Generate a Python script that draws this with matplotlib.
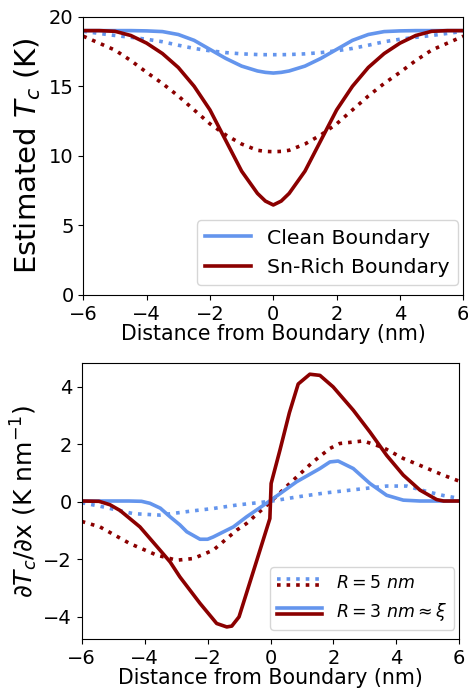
import matplotlib
matplotlib.use("Agg")
import matplotlib.pyplot as plt
from matplotlib.lines import Line2D
from matplotlib.legend_handler import HandlerBase

# ---------------- data: top panel (Estimated Tc) ----------------
x_top = [-6, -5.5, -5, -4.5, -4, -3.5, -3, -2.5, -2, -1.5, -1, -0.5, -0.25, 0,
         0.25, 0.5, 1, 1.5, 2, 2.5, 3, 3.5, 4, 4.5, 5, 5.5, 6]
tc_clean_r3 = [19.0, 19.0, 19.0, 19.0, 18.98, 18.93, 18.72, 18.3, 17.65, 17.0, 16.45, 16.1, 16.0, 15.95,
               16.0, 16.1, 16.45, 17.0, 17.65, 18.3, 18.72, 18.93, 18.98, 19.0, 19.0, 19.0, 19.0]
tc_clean_r5 = [18.95, 18.8, 18.65, 18.52, 18.38, 18.2, 17.95, 17.72, 17.55, 17.42, 17.33, 17.28, 17.27, 17.27,
               17.27, 17.28, 17.33, 17.42, 17.55, 17.72, 17.95, 18.2, 18.38, 18.52, 18.65, 18.8, 18.95]
tc_sn_r3 = [19.0, 19.0, 18.95, 18.65, 18.1, 17.35, 16.35, 15.0, 13.3, 11.1, 8.9, 7.3, 6.75, 6.47,
            6.75, 7.3, 8.9, 11.1, 13.3, 15.0, 16.35, 17.35, 18.1, 18.65, 18.95, 19.0, 19.0]
tc_sn_r5 = [18.6, 18.1, 17.6, 16.85, 16.0, 15.2, 14.3, 13.3, 12.3, 11.5, 10.85, 10.4, 10.32, 10.3,
            10.32, 10.4, 10.85, 11.5, 12.3, 13.3, 14.3, 15.2, 16.0, 16.85, 17.6, 18.1, 18.6]

# ---------------- data: bottom panel (dTc/dx) ----------------
x_clean_r3 = [-6, -4.5, -4.1, -3.83, -3.5, -3.19, -2.88, -2.66, -2.24, -2.0, -1.82, -1.18, -0.76, 0.0,
              0.83, 1.57, 1.89, 2.15, 2.63, 3.16, 3.69, 4.22, 4.75, 6]
d_clean_r3 = [0.03, 0.03, 0.02, -0.05, -0.22, -0.52, -0.8, -1.04, -1.3, -1.3, -1.22, -0.87, -0.52, 0.05,
              0.7, 1.16, 1.39, 1.42, 1.16, 0.64, 0.23, 0.06, 0.03, 0.03]

x_clean_r5 = [-6, -5.42, -4.36, -3.51, -2.45, -1.82, -1.07, 0.0, 0.83, 1.73, 2.63, 3.69,
              4.33, 5.07, 5.5, 6]
d_clean_r5 = [-0.03, -0.15, -0.41, -0.46, -0.31, -0.23, -0.11, 0.02, 0.17, 0.31, 0.42, 0.55,
              0.55, 0.33, 0.22, 0.12]

x_sn_r3 = [-6, -5.45, -5.1, -4.78, -4.15, -3.51, -3.19, -2.88, -2.24, -1.71, -1.39, -1.23, -1.0, -0.5,
           -0.02, 0.02, 0.3, 0.6, 0.88, 1.25, 1.57, 1.99, 2.63, 3.16, 3.69, 4.22, 4.75, 5.28, 5.5, 6]
d_sn_r3 = [0.03, 0.02, -0.1, -0.3, -0.87, -1.68, -2.09, -2.61, -3.53, -4.23, -4.35, -4.32, -4.0, -2.26,
           -0.58, 0.64, 1.8, 3.1, 4.1, 4.44, 4.4, 4.0, 3.19, 2.43, 1.62, 0.93, 0.41, 0.08, 0.03, 0.03]

x_sn_r5 = [-6, -5.42, -4.47, -3.62, -2.98, -2.45, -1.82, -1.07, -0.76, 0.0, 0.61, 1.35, 1.89,
           2.2, 2.95, 3.58, 4.22, 4.86, 5.49, 6]
d_sn_r5 = [-0.68, -0.87, -1.45, -1.85, -2.03, -1.97, -1.68, -0.98, -0.75, 0.0, 0.64, 1.39, 1.86,
           2.03, 2.12, 1.89, 1.51, 1.22, 0.93, 0.72]

xticks = [-6, -4, -2, 0, 2, 4, 6]
top_yticks = [0, 5, 10, 15, 20]
bot_yticks = [-4, -2, 0, 2, 4]

BLUE = "#6495ED"
RED = "#8B0000"
LW = 2.6

plt.rcParams['font.family'] = ['DejaVu Sans']
plt.rcParams['mathtext.fontset'] = 'dejavusans'

fig = plt.figure(figsize=(4.68, 6.93), dpi=100)

# ---------------- top axes ----------------
ax1 = fig.add_axes([83.3 / 468, 1 - 295 / 693, (463.3 - 83.3) / 468, (295 - 16.7) / 693])
ax1.plot(x_top, tc_clean_r5, color=BLUE, lw=LW, ls=':')
ax1.plot(x_top, tc_sn_r5, color=RED, lw=LW, ls=':')
l_clean, = ax1.plot(x_top, tc_clean_r3, color=BLUE, lw=LW, label='Clean Boundary')
l_sn, = ax1.plot(x_top, tc_sn_r3, color=RED, lw=LW, label='Sn-Rich Boundary')
ax1.set_xlim(-6, 6)
ax1.set_ylim(0, 20)
ax1.set_xticks(xticks)
ax1.set_yticks(top_yticks)
ax1.tick_params(labelsize=14)
ax1.set_xlabel('Distance from Boundary (nm)', fontsize=14.8, labelpad=0)
ax1.set_ylabel('Estimated $T_c$ (K)', fontsize=21, labelpad=4)
ax1.legend(handles=[l_clean, l_sn], loc='lower right', fontsize=14.7, handlelength=2.25,
           bbox_to_anchor=(0.9853, 0.036), borderaxespad=0)


class HandlerStack(HandlerBase):
    def create_artists(self, legend, orig_handle, xdescent, ydescent, width, height, fontsize, trans):
        arts = []
        n = len(orig_handle)
        gap = height * 0.45
        for i, h in enumerate(orig_handle):
            y = (height - ydescent) / 2 + (0.5 - i) * gap * (1 if n > 1 else 0)
            ln = Line2D([-xdescent, width - xdescent], [y, y], color=h.get_color(),
                        ls=h.get_linestyle(), lw=h.get_linewidth())
            ln.set_transform(trans)
            arts.append(ln)
        return arts


# ---------------- bottom axes ----------------
ax2 = fig.add_axes([81.7 / 468, 1 - 639.3 / 693, (459.3 - 81.7) / 468, (639.3 - 363.3) / 693])
b5, = ax2.plot(x_clean_r5, d_clean_r5, color=BLUE, lw=LW, ls=':')
r5, = ax2.plot(x_sn_r5, d_sn_r5, color=RED, lw=LW, ls=':')
b3, = ax2.plot(x_clean_r3, d_clean_r3, color=BLUE, lw=LW)
r3, = ax2.plot(x_sn_r3, d_sn_r3, color=RED, lw=LW)
ax2.set_xlim(-6, 6)
ax2.set_ylim(-4.78, 4.82)
ax2.set_xticks(xticks)
ax2.set_yticks(bot_yticks)
ax2.tick_params(labelsize=14)
ax2.set_xlabel('Distance from Boundary (nm)', fontsize=14.8, labelpad=0)
ax2.set_ylabel(r'$\partial T_c/\partial$x (K nm$^{-1}$)', fontsize=18, labelpad=2)
ax2.legend(handles=[(b5, r5), (b3, r3)], labels=[r'$R = 5\ nm$', r'$R = 3\ nm \approx \xi$'],
           handler_map={tuple: HandlerStack()}, loc='lower right', fontsize=12.5,
           handlelength=2.6, bbox_to_anchor=(0.9868, 0.034), borderaxespad=0)

fig.savefig('out.png', dpi=100)
